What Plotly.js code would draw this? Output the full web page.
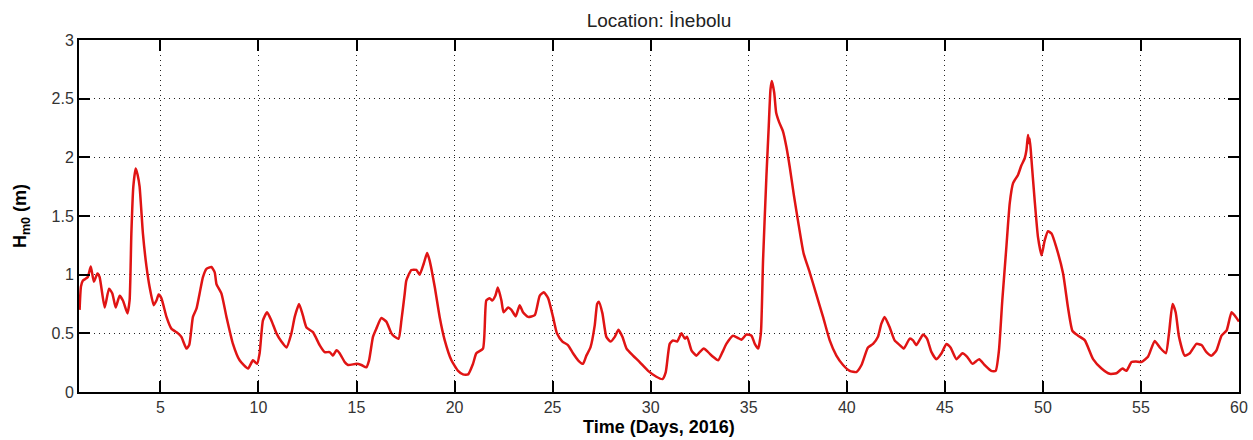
<!DOCTYPE html>
<html>
<head>
<meta charset="utf-8">
<script src="https://cdn.plot.ly/plotly-3.0.1.min.js"></script>
<style>html,body{margin:0;padding:0;background:#fff;}#chart{width:1253px;height:440px;}</style>
</head>
<body>
<div id="chart"></div>
<script>
const days = [0.88,0.95,1.05,1.14,1.30,1.45,1.61,1.79,1.90,2.16,2.38,2.55,2.72,2.92,3.09,3.32,3.43,3.52,3.62,3.74,3.84,3.94,4.11,4.29,4.45,4.66,4.80,4.91,5.05,5.31,5.56,5.90,6.07,6.33,6.47,6.66,6.84,7.00,7.17,7.35,7.60,7.77,7.86,8.11,8.37,8.70,9.04,9.47,9.72,9.93,10.06,10.23,10.44,10.66,10.92,11.17,11.43,11.68,11.85,12.07,12.27,12.45,12.78,13.12,13.38,13.63,13.80,13.98,14.14,14.40,14.57,15.00,15.25,15.50,15.64,15.84,16.01,16.27,16.52,16.78,16.95,17.15,17.29,17.46,17.54,17.80,18.05,18.22,18.43,18.60,18.73,18.99,19.24,19.50,19.84,20.18,20.43,20.69,20.94,21.11,21.45,21.62,21.79,21.92,22.08,22.21,22.39,22.50,22.73,22.90,23.12,23.32,23.49,23.75,24.09,24.34,24.55,24.77,25.02,25.22,25.50,25.78,26.04,26.30,26.55,26.72,26.93,27.15,27.27,27.36,27.54,27.74,27.95,28.17,28.36,28.56,28.77,29.10,29.44,29.87,30.29,30.60,30.77,30.97,31.14,31.35,31.57,31.74,31.86,32.08,32.33,32.50,32.71,32.93,33.18,33.44,33.66,33.86,34.20,34.46,34.63,34.88,35.14,35.31,35.48,35.62,35.73,35.90,36.02,36.11,36.18,36.30,36.40,36.55,36.75,36.92,37.09,37.30,37.55,37.80,38.11,38.45,38.79,39.13,39.47,39.81,40.15,40.49,40.75,41.08,41.34,41.59,41.76,41.93,42.19,42.44,42.70,42.91,43.21,43.38,43.55,43.89,44.09,44.32,44.57,44.83,45.08,45.29,45.59,45.90,46.14,46.41,46.75,47.03,47.37,47.59,47.76,47.93,48.14,48.31,48.48,48.73,48.90,49.07,49.16,49.24,49.29,49.33,49.42,49.58,49.75,49.93,50.09,50.26,50.44,50.69,51.03,51.28,51.51,51.80,52.14,52.56,52.99,53.41,53.75,54.06,54.26,54.52,54.74,55.02,55.36,55.70,55.96,56.27,56.43,56.61,56.77,56.94,57.23,57.49,57.83,58.09,58.34,58.60,58.85,59.11,59.37,59.62,59.79,60.00];
const hm0 = [0.70,0.90,0.95,0.96,0.98,1.07,0.94,1.01,0.98,0.72,0.88,0.84,0.72,0.82,0.78,0.67,0.78,1.35,1.75,1.905,1.85,1.75,1.35,1.07,0.895,0.74,0.78,0.83,0.80,0.64,0.54,0.50,0.47,0.37,0.40,0.64,0.71,0.84,0.98,1.05,1.065,1.02,0.92,0.84,0.64,0.41,0.27,0.20,0.27,0.24,0.33,0.61,0.68,0.61,0.50,0.43,0.38,0.50,0.64,0.75,0.65,0.55,0.51,0.40,0.34,0.34,0.31,0.355,0.33,0.255,0.23,0.24,0.23,0.21,0.27,0.47,0.54,0.63,0.60,0.50,0.47,0.455,0.61,0.84,0.95,1.04,1.04,1.00,1.095,1.185,1.12,0.895,0.64,0.44,0.27,0.18,0.15,0.15,0.24,0.33,0.37,0.78,0.80,0.78,0.82,0.89,0.78,0.68,0.72,0.70,0.645,0.74,0.68,0.64,0.655,0.82,0.85,0.80,0.64,0.50,0.43,0.40,0.33,0.27,0.24,0.31,0.38,0.57,0.75,0.77,0.67,0.47,0.43,0.47,0.53,0.47,0.37,0.31,0.255,0.18,0.13,0.11,0.17,0.41,0.44,0.43,0.50,0.455,0.47,0.355,0.31,0.34,0.37,0.34,0.30,0.27,0.34,0.41,0.48,0.46,0.445,0.49,0.48,0.41,0.37,0.50,1.12,1.83,2.26,2.58,2.65,2.55,2.38,2.30,2.22,2.09,1.92,1.68,1.42,1.18,1.02,0.83,0.64,0.44,0.31,0.23,0.18,0.17,0.23,0.38,0.41,0.47,0.58,0.64,0.55,0.44,0.40,0.37,0.455,0.44,0.40,0.49,0.455,0.34,0.28,0.33,0.41,0.38,0.28,0.33,0.30,0.24,0.28,0.23,0.18,0.18,0.355,0.78,1.24,1.61,1.78,1.85,1.93,1.99,2.06,2.19,2.12,2.16,1.975,1.635,1.32,1.165,1.29,1.37,1.35,1.23,1.01,0.72,0.52,0.48,0.44,0.28,0.20,0.155,0.16,0.20,0.18,0.255,0.26,0.255,0.30,0.435,0.38,0.33,0.50,0.75,0.68,0.47,0.31,0.33,0.41,0.40,0.34,0.31,0.355,0.48,0.525,0.68,0.65,0.60];
const xTicks = [5,10,15,20,25,30,35,40,45,50,55,60];
const yTicks = [0,0.5,1,1.5,2,2.5,3];
const yTickText = ['0','0.5','1','1.5','2','2.5','3'];

const tickFont = {family: 'Liberation Sans, Arial, sans-serif', size: 16, color: '#333'};
const data = [{
  x: days, y: hm0, type: 'scatter', mode: 'lines',
  line: {color: '#e01414', width: 2.5, shape: 'spline', smoothing: 0.5},
  hoverinfo: 'skip'
}];
const axisCommon = {
  showline: true, linecolor: '#000', linewidth: 2, mirror: 'ticks',
  ticks: 'inside', ticklen: 11, tickwidth: 2, tickcolor: '#000',
  showgrid: true, gridcolor: '#222', gridwidth: 1, griddash: '1px,4px',
  zeroline: false, tickfont: tickFont, automargin: false
};
const layout = {
  width: 1253, height: 440,
  margin: {l: 79, r: 14, t: 40, b: 48},
  paper_bgcolor: '#fff', plot_bgcolor: '#fff',
  showlegend: false,
  title: {text: 'Location: İnebolu', font: {family: 'Liberation Sans, Arial, sans-serif', size: 19, color: '#222'},
          xref: 'paper', x: 0.5, xanchor: 'center', yref: 'container', y: 1 - 20/440, yanchor: 'middle'},
  xaxis: Object.assign({}, axisCommon, {
    range: [0.85, 60], tickvals: xTicks, ticktext: xTicks.map(String),
    title: {text: 'Time (Days, 2016)', font: {family: 'Liberation Sans, Arial, sans-serif', size: 18, color: '#000', weight: 'bold'}, standoff: 5}
  }),
  yaxis: Object.assign({}, axisCommon, {
    range: [0, 3], tickvals: yTicks, ticktext: yTickText,
    title: {text: 'H<sub>m0</sub> (m)', font: {family: 'Liberation Sans, Arial, sans-serif', size: 18, color: '#000', weight: 'bold'}, standoff: 20}
  })
};
Plotly.newPlot('chart', data, layout, {displayModeBar: false, staticPlot: true});
</script>
</body>
</html>
